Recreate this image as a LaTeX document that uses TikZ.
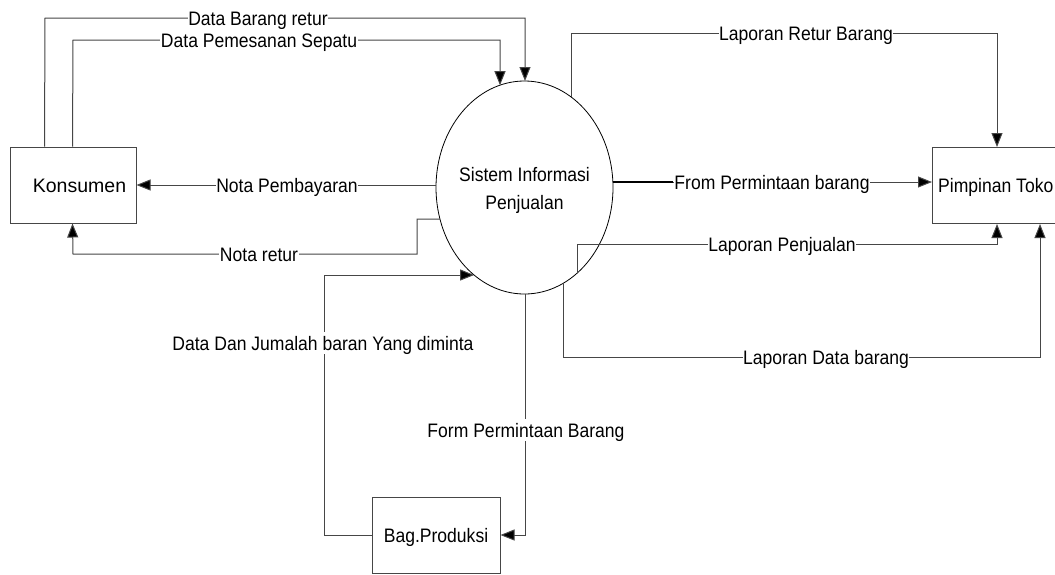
\documentclass[tikz,border=0pt]{standalone}
\usepackage{fontspec}
\setmainfont{Liberation Sans}[FakeStretch=0.9]
\newfontfamily\widefont{Liberation Sans}
\usetikzlibrary{arrows.meta,shapes.geometric}
\definecolor{ln}{RGB}{70,70,70}
\begin{document}
\begin{tikzpicture}[x=1pt,y=-1pt,
  font=\fontsize{19.5}{24}\selectfont,
  txt/.style={inner sep=0pt, text height=17pt, text depth=3pt},
  box/.style={draw=ln, line width=1pt, rectangle, inner sep=0pt},
  flow/.style={draw=ln, line width=1pt, -{Triangle[length=14pt,width=11pt,fill=black]}},
  lbl/.style={txt, fill=white, inner xsep=0.5pt, inner ysep=1pt}]
\clip (0,0) rectangle (1055,574);
\fill[white] (0,0) rectangle (1055,574);

% external entities and the process
\node[box, minimum width=126pt, minimum height=76pt] (kon) at (73,185) {};
\node[txt, font=\widefont\fontsize{19.5}{24}\selectfont] (kontxt) at (79.5,185) {Konsumen};
\node[box, minimum width=128pt, minimum height=76pt] (bag) at (436,535) {};
\node[txt] (bagtxt) at (436,535) {Bag.Produksi};
\node[box, anchor=north west, minimum width=150pt, minimum height=76pt] (pim) at (932,147) {};
\node[txt, anchor=west] (pimtxt) at (938,185) {Pimpinan Toko};
\node[ellipse, draw=black, line width=0.8pt, minimum width=177pt, minimum height=213pt, inner sep=0pt] (ell) at (524.5,187.5) {};
\node[anchor=base, inner sep=0pt] (elltxt) at (524.5,181.7) {Sistem Informasi};
\node[anchor=base, inner sep=0pt] (elltxtb) at (524.5,209.3) {Penjualan};

% points where the flows meet the ellipse
\coordinate (eBR) at (525,81);
\coordinate (ePS) at (500,85.2);
\coordinate (eNP) at (436,185);
\coordinate (eNR) at (440,219);
\coordinate (eDJ) at (474.1,275);
\coordinate (eFB) at (525,294);
\coordinate (eFP) at (612.9,182);
\coordinate (eLR) at (571,97);
\coordinate (eLP) at (577,273.2);
\coordinate (eLD) at (563,283.4);

% flows between Konsumen and the system
\draw[flow] ([xshift=35pt]kon.north west) -- (45,18) -- (525,18) -- (eBR);
\draw[flow] ([xshift=63pt]kon.north west) -- (73,40) -- (500,40) -- (ePS);
\draw[flow] (eNP) -- (kon.east);
\draw[flow] (eNR) -- (417,219) -- (417,254) -- (73,254) -- ([xshift=63pt]kon.south west);

% flows with Bag.Produksi
\draw[flow] (bag.west) -- (324,535) -- (324,275) -- (eDJ);
\draw[flow] (eFB) -- (525,535) -- (bag.east);

% flows to Pimpinan Toko
\draw[flow] (eFP) -- (pim.west |- eFP);
\draw[black, line width=1.6pt] (eFP) -- (673,182);
\draw[flow] (eLR) -- (571,33) -- (997,33) -- ([xshift=65pt]pim.north west);
\draw[flow] (eLP) -- (577,244) -- (997,244) -- ([xshift=65pt]pim.south west);
\draw[flow] (eLD) -- (563,357) -- (1040,357) -- ([xshift=108pt]pim.south west);

% flow labels
\node[lbl] (l1) at (258,18) {Data Barang retur};
\node[lbl] (l2) at (259,40) {Data Pemesanan Sepatu};
\node[lbl] (l3) at (287,185) {Nota Pembayaran};
\node[lbl] (l4) at (259,254) {Nota retur};
\node[lbl] (l5) at (323,343) {Data Dan Jumalah baran Yang diminta};
\node[lbl] (l6) at (526,430) {Form Permintaan Barang};
\node[lbl] (l7) at (772,182) {From Permintaan barang};
\node[lbl] (l8) at (806,33) {Laporan Retur Barang};
\node[lbl] (l9) at (782,244) {Laporan Penjualan};
\node[lbl] (l10) at (826,357) {Laporan Data barang};
\end{tikzpicture}
\end{document}
